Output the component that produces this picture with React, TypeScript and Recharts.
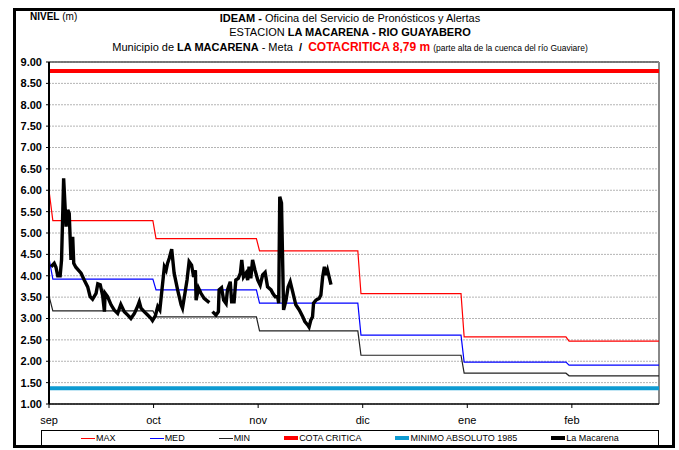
import React from 'react';
import { LineChart, Line, XAxis, YAxis, CartesianGrid, ReferenceLine } from 'recharts';

const FONT = '"Liberation Sans Narrow", "Liberation Sans", Arial, sans-serif';

// x axis: days since 1 sep (axis drawn with 30-day month ticks)
const monthLabels = ['sep', 'oct', 'nov', 'dic', 'ene', 'feb'];
const monthTicks = [0, 30, 60, 90, 120, 150];
const lastDay = 175;
const yTicks = [1, 1.5, 2, 2.5, 3, 3.5, 4, 4.5, 5, 5.5, 6, 6.5, 7, 7.5, 8, 8.5, 9];

// historic monthly levels (step lines)
const stepDays = [29.8, 59.5, 88.6, 118.2, 148.3];
const maxStart = 6.0;
const maxLevels = [5.29, 4.87, 4.58, 3.58, 2.57, 2.47];
const medStart = 4.41;
const medLevels = [3.92, 3.67, 3.36, 2.61, 1.98, 1.91];
const minStart = 3.53;
const minLevels = [3.18, 3.04, 2.71, 2.14, 1.72, 1.66];

const cotaCritica = 8.79;
const minimoAbsoluto = 1.37;

// La Macarena readings (null = missing data)
const obsDays = [
  0.6, 1.5, 2.0, 2.5, 3.2, 3.6, 4.2, 4.9, 5.4, 5.8, 6.3, 6.8, 7.1, 7.7, 9.2, 10.1, 11.1, 11.8, 12.5, 13.5,
  14.0, 14.7, 15.4, 15.9, 16.1, 16.8, 17.8, 18.7, 19.7, 20.6, 21.6, 22.6, 23.5, 24.5, 25.4, 25.9, 26.4, 27.3,
  28.3, 29.3, 29.7, 30.5, 31.2, 31.8, 32.3, 33.1, 33.6, 34.0, 34.5, 35.2, 35.9, 36.9, 37.9, 38.3, 39.0, 39.6,
  40.2, 40.9, 41.5, 42.0, 42.2, 42.9, 43.6, 44.5, 46.0, 46.5, 46.9, 47.9, 48.6, 48.8, 49.5, 50.1, 50.8, 51.2,
  52.0, 52.4, 53.1, 53.6, 54.3, 54.9, 55.3, 55.8, 56.5, 57.0, 57.4, 57.9, 58.4, 59.1, 59.9, 60.6, 61.3, 62.0,
  62.7, 63.7, 64.2, 64.9, 65.6, 65.9, 66.2, 66.7, 67.3, 68.0, 68.6, 69.2, 69.9, 70.8, 71.8, 72.8, 73.4, 74.2,
  74.6, 75.1, 75.6, 75.9, 76.6, 77.5, 78.0, 78.5, 79.0, 79.5, 79.9, 80.9,
];
const obsLevels = [
  4.21, 4.29, 4.2, 4.0, 4.0, 4.37, 6.28, 5.15, 5.54, 5.46, 4.37, 4.91, 4.29, 4.2, 4.06, 3.9, 3.74, 3.51, 3.45, 3.59,
  3.81, 3.79, 3.53, 3.16, 3.59, 3.51, 3.32, 3.2, 3.12, 3.33, 3.16, 3.08, 3.0, 3.12, 3.28, 3.39, 3.24, 3.16,
  3.08, 3.0, 2.95, 3.06, 3.28, 3.2, 3.59, 4.21, 4.13, 4.29, 4.41, 4.62, 4.06, 3.67, 3.32, 3.24, 3.59, 3.9,
  4.33, 4.25, 3.97, 4.13, 3.43, 3.71, 3.59, 3.47, 3.37, null, 3.16, 3.08, 3.16, 3.67, 3.72, 3.43, 3.35, 3.67,
  3.86, 3.39, 3.39, 3.9, 3.94, 4.06, 4.37, 3.97, 4.06, 3.9, 4.21, 3.94, 4.37, 4.13, 3.9, 3.78, 4.02, 4.08,
  3.74, 3.67, 3.59, 3.51, 3.51, 3.36, 5.85, 5.7, 3.2, 3.43, 3.74, 3.86, 3.63, 3.32, 3.2, 3.04, 2.93, 2.85,
  2.8, 2.96, 3.04, 3.36, 3.43, 3.47, 3.55, 3.97, 4.21, 4.02, 4.13, 3.79,
];

const buildSteps = (start: number, levels: number[]) => {
  const pts = [{ day: 0, value: start }, { day: 1.1, value: levels[0] }];
  stepDays.forEach((d, i) => {
    pts.push({ day: d, value: levels[i] });
    pts.push({ day: d + 0.9, value: levels[i + 1] });
  });
  pts.push({ day: lastDay, value: levels[levels.length - 1] });
  return pts;
};

const maxData = buildSteps(maxStart, maxLevels);
const medData = buildSteps(medStart, medLevels);
const minData = buildSteps(minStart, minLevels);
const cotaData = [{ day: 0, value: cotaCritica }, { day: lastDay, value: cotaCritica }];
const minimoData = [{ day: 0, value: minimoAbsoluto }, { day: lastDay, value: minimoAbsoluto }];
const obsData = obsDays.map((d, i) => ({ day: d, value: obsLevels[i] }));

const legendItems = [
  { name: 'MAX', color: '#ff0000', w: 1 },
  { name: 'MED', color: '#0000ff', w: 1 },
  { name: 'MIN', color: '#222222', w: 1 },
  { name: 'COTA CRITICA', color: '#ff0000', w: 4 },
  { name: 'MINIMO ABSOLUTO 1985', color: '#0e9bd2', w: 4 },
  { name: 'La Macarena', color: '#000000', w: 4 },
];

export default function App() {
  return (
    <div style={{ position: 'absolute', left: 0, top: 0, width: 679, height: 450, background: '#fff', fontFamily: FONT, color: '#000' }}>
      <div style={{ position: 'absolute', left: 13, top: 8, width: 656, height: 434, border: '3px solid #000' }} />

      <div style={{ position: 'absolute', left: 30, top: 11, fontSize: 10, whiteSpace: 'nowrap' }}>
        <b>NIVEL</b> (m)
      </div>
      <div style={{ position: 'absolute', left: 50, width: 600, textAlign: 'center', top: 11, fontSize: 11, whiteSpace: 'nowrap', lineHeight: '14px' }}>
        <b>IDEAM - </b>Oficina del Servicio de Pronósticos y Alertas
      </div>
      <div style={{ position: 'absolute', left: 50, width: 600, textAlign: 'center', top: 25, fontSize: 11, whiteSpace: 'nowrap', lineHeight: '14px' }}>
        ESTACION <b>LA MACARENA - RIO GUAYABERO</b>
      </div>
      <div style={{ position: 'absolute', left: 50, width: 600, textAlign: 'center', top: 40, fontSize: 11, whiteSpace: 'nowrap', lineHeight: '14px' }}>
        Municipio de <b>LA MACARENA</b> - Meta <b>&nbsp;/&nbsp;</b>{' '}
        <b style={{ color: '#ff0000', fontSize: 12 }}>COTACRITICA 8,79 m</b>{' '}
        <span style={{ fontSize: 8.5 }}>(parte alta de la cuenca del río Guaviare)</span>
      </div>

      <div style={{ position: 'absolute', left: 0, top: 0 }}>
        <LineChart width={679} height={450} margin={{ top: 62, right: 20, bottom: 16, left: 9 }}>
          <CartesianGrid vertical={false} stroke="#b4b4b4" strokeDasharray="2 1" />
          <XAxis
            type="number"
            dataKey="day"
            domain={[0, lastDay]}
            ticks={monthTicks}
            interval={0}
            allowDataOverflow
            tickFormatter={(v: number) => monthLabels[monthTicks.indexOf(v)]}
            tick={{ fontSize: 11, fill: '#000', fontFamily: FONT }}
            tickSize={4}
            tickMargin={8}
            height={30}
            axisLine={{ stroke: '#000', strokeWidth: 1.5 }}
            tickLine={{ stroke: '#000' }}
          />
          <YAxis
            type="number"
            domain={[1, 9]}
            ticks={yTicks}
            interval={0}
            allowDataOverflow
            width={40}
            tickFormatter={(v: number) => v.toFixed(2)}
            tick={{ fontSize: 11, fill: '#000', fontWeight: 'bold', fontFamily: '"Liberation Sans", Arial, sans-serif' }}
            tickSize={3}
            tickMargin={4}
            axisLine={{ stroke: '#000', strokeWidth: 2 }}
            tickLine={{ stroke: '#000' }}
          />
          <ReferenceLine y={9} stroke="#555" strokeWidth={1.5} />
          <ReferenceLine x={lastDay} stroke="#888" strokeWidth={2} />
          <Line data={minimoData} dataKey="value" stroke="#0e9bd2" strokeWidth={4} dot={false} isAnimationActive={false} />
          <Line data={cotaData} dataKey="value" stroke="#ff0000" strokeWidth={4} dot={false} isAnimationActive={false} />
          <Line data={maxData} dataKey="value" stroke="#ff0000" strokeWidth={1.2} dot={false} isAnimationActive={false} />
          <Line data={medData} dataKey="value" stroke="#0000ff" strokeWidth={1.2} dot={false} isAnimationActive={false} />
          <Line data={minData} dataKey="value" stroke="#222" strokeWidth={1.2} dot={false} isAnimationActive={false} />
          <Line data={obsData} dataKey="value" stroke="#000" strokeWidth={3.4} dot={false} connectNulls={false} isAnimationActive={false} />
        </LineChart>
      </div>

      <div
        style={{
          position: 'absolute', left: 41, top: 430, width: 616, height: 14, border: '1px solid #000',
          display: 'flex', alignItems: 'center', justifyContent: 'center', gap: 34, fontSize: 9, whiteSpace: 'nowrap',
        }}
      >
        {legendItems.map((it) => (
          <div key={it.name} style={{ display: 'flex', alignItems: 'center' }}>
            <span style={{ display: 'inline-block', width: 14, height: it.w, background: it.color, marginRight: 1 }} />
            <span>{it.name}</span>
          </div>
        ))}
      </div>
    </div>
  );
}
